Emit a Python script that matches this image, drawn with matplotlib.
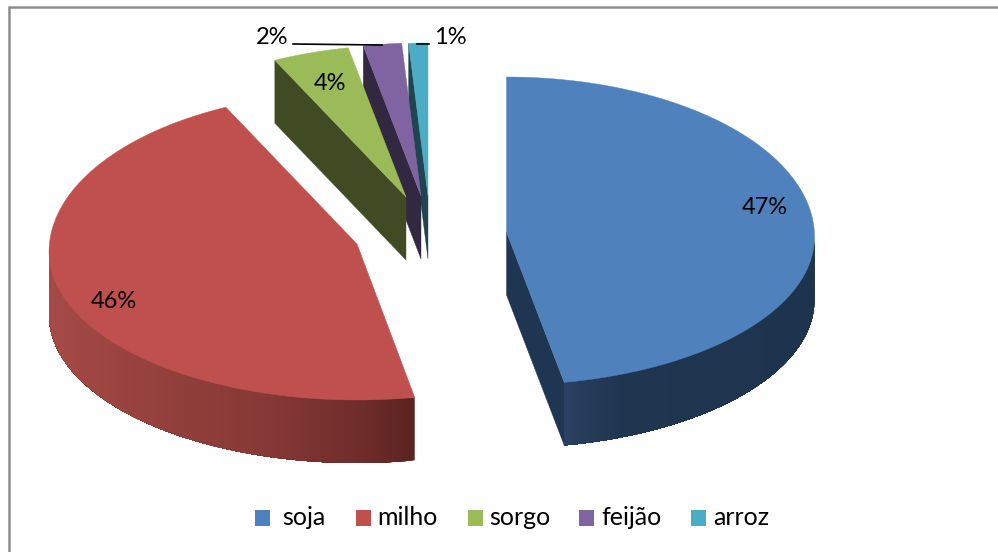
import numpy as np
import matplotlib
matplotlib.use("Agg")
import matplotlib.pyplot as plt
from matplotlib.patches import Polygon, Rectangle
from matplotlib.colors import to_rgb

categories = ["soja", "milho", "sorgo", "feijão", "arroz"]
values = [47, 46, 4, 2, 1]
labels = ["47%", "46%", "4%", "2%", "1%"]

colors = ["#4f81bd", "#c0504d", "#9bbb59", "#8064a2", "#4bacc6"]
cut_colors = ["#1f3652", "#622a28", "#404b23", "#332841", "#1e4550"]

plt.rcParams["font.family"] = ["Lato", "DejaVu Sans"]
W, H = 998, 552
fig = plt.figure(figsize=(W / 100, H / 100), dpi=100)
ax = fig.add_axes([0, 0, 1, 1])
ax.set_xlim(0, W)
ax.set_ylim(H, 0)
ax.axis("off")

RX, RY_BACK, RY_FRONT, DEPTH = 308, 160, 148, 63
apexes = {"soja": (506.5, 232), "milho": (357, 244), "sorgo": (406, 197),
          "feijão": (421, 196), "arroz": (428, 196)}
centre_drop = {"soja": 5, "milho": 8, "sorgo": 8, "feijão": 7, "arroz": 7}
rim_stops = {
    "soja": ([565, 585, 625, 814], ["#2a4265", "#263c5b", "#1f3550", "#1e344e"]),
    "milho": ([50, 140, 273, 373, 414], ["#a54a47", "#97423e", "#853835", "#6c2b29", "#5a2421"]),
}

fracs = np.array(values, dtype=float) / sum(values)
edges = np.concatenate([[0], np.cumsum(fracs) * 360])


def rim(cat, t):
    cx, cy = apexes[cat]
    r = np.radians(t)
    c = np.cos(r)
    return cx + RX * np.sin(r), cy + centre_drop[cat] - np.where(c > 0, RY_BACK, RY_FRONT) * c


def cut_face(cat, t, color, z):
    cx, cy = apexes[cat]
    x, y = rim(cat, t)
    ax.add_patch(Polygon([(cx, cy), (x, y), (x, y + DEPTH), (cx, cy + DEPTH)],
                         closed=True, fc=color, ec=color, lw=0.3, zorder=z))


# back slices first, so the nearer ones overlap them
order = [4, 3, 2, 1, 0]
for n, i in enumerate(order):
    cat = categories[i]
    t0, t1 = edges[i], edges[i + 1]
    z = 2 + n * 3
    if cat == "soja":
        cut_face(cat, t1, cut_colors[i], z)
    elif cat != "milho":
        cut_face(cat, t0, cut_colors[i], z)
    if cat in rim_stops:
        lo, hi = (90, t1) if cat == "soja" else (t0, 270)
        ts = np.linspace(lo, hi, int(hi - lo) * 2 + 2)
        px, pc = rim_stops[cat]
        rgb = np.array([to_rgb(c) for c in pc])
        # every strip reaches to the end of the rim, the next one paints over it
        for a in ts[:-1]:
            rest = np.linspace(a, hi, 120)
            xs, ys = rim(cat, rest)
            col = [np.interp(float(xs[0]), px, rgb[:, k]) for k in range(3)]
            ax.add_patch(Polygon(np.column_stack([np.r_[xs, xs[::-1]],
                                                  np.r_[ys, ys[::-1] + DEPTH]]),
                                 closed=True, fc=col, ec="none", zorder=z))
    ts = np.linspace(t0, t1, 300)
    xs, ys = rim(cat, ts)
    cx, cy = apexes[cat]
    ax.add_patch(Polygon(np.column_stack([np.r_[cx, xs], np.r_[cy, ys]]), closed=True,
                         fc=colors[i], ec=colors[i], lw=0.3, zorder=z + 1))

# chart frame (only top and left are in view)
ax.plot([998, 9, 9], [7, 7, 552], color="#8e8e8e", lw=1.8, zorder=1, solid_joinstyle="miter")

# data labels and leader lines
label_pos = [(765, 207), (114, 302), (330, 83), (272, 38), (450, 38)]
for txt, (x, y) in zip(labels, label_pos):
    ax.text(x, y, txt, ha="center", va="center", fontsize=17, color="black", zorder=30)
ax.plot([293, 382], [44, 45], color="black", lw=1.2, zorder=29)
ax.plot([417, 429], [44, 44], color="black", lw=1.2, zorder=29)

# legend
swatch_x = [255, 356, 468, 579, 691]
text_x = [282, 377, 489.5, 601, 713]
for cat, col, sx, tx in zip(categories, colors, swatch_x, text_x):
    ax.add_patch(Rectangle((sx, 510), 15, 15.5, fc=col, ec="none", zorder=30))
    ax.text(tx, 525, cat, ha="left", va="baseline", fontsize=18, color="black", zorder=30)

fig.savefig("out.png", dpi=100)
